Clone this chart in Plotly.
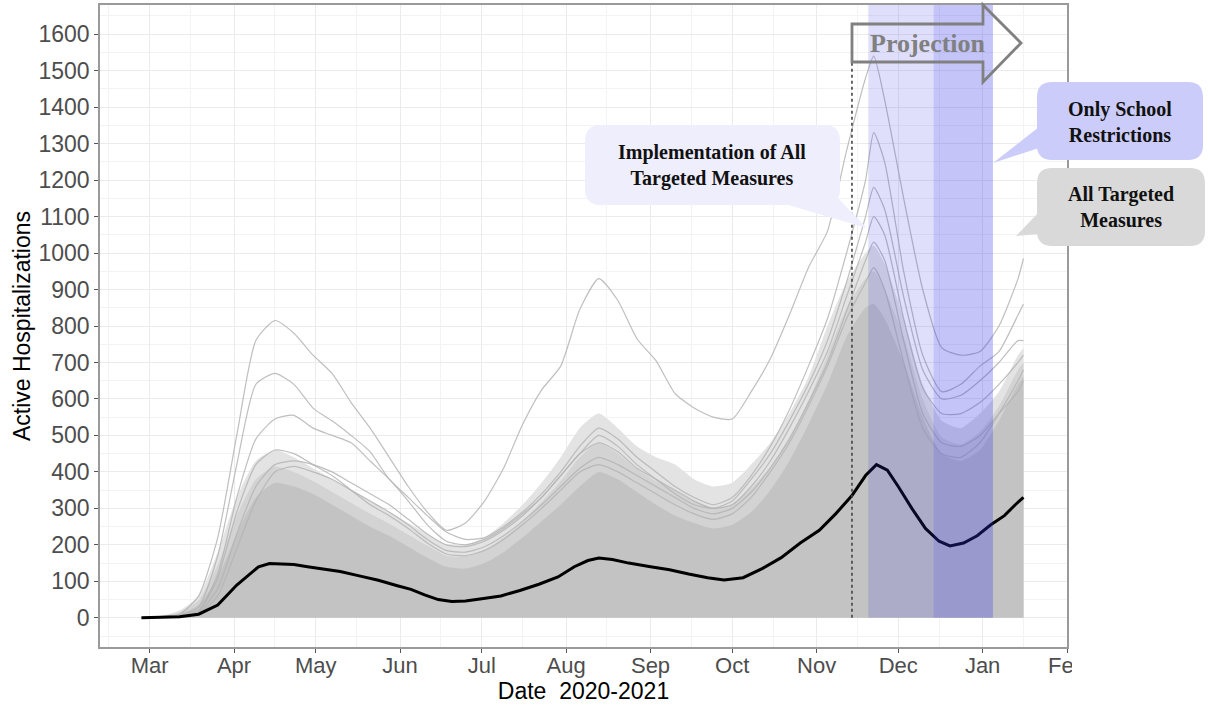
import plotly.graph_objects as go

# ---------------- data ----------------
grid_dates = ["2020-02-27","2020-03-05","2020-03-12","2020-03-19","2020-03-26",
              "2020-04-02","2020-04-09","2020-04-16","2020-04-23","2020-04-30",
              "2020-05-07","2020-05-14","2020-05-21","2020-05-28",
              "2020-06-04","2020-06-11","2020-06-18","2020-06-25",
              "2020-07-02","2020-07-09","2020-07-16","2020-07-23","2020-07-30",
              "2020-08-06","2020-08-13","2020-08-20","2020-08-27",
              "2020-09-03","2020-09-10","2020-09-17","2020-09-24",
              "2020-10-01","2020-10-08","2020-10-15","2020-10-22","2020-10-29",
              "2020-11-05","2020-11-12","2020-11-19","2020-11-22","2020-11-26",
              "2020-12-03","2020-12-10","2020-12-17","2020-12-24","2020-12-31",
              "2021-01-07","2021-01-14","2021-01-16"]

# envelopes of the dense bundle of simulated trajectories
band_outer = [0,5,20,60,180,330,430,460,440,410,380,350,320,290,260,230,200,200,220,260,
              310,370,440,520,560,520,470,440,420,380,360,370,420,480,560,660,800,920,1000,1020,
              970,820,640,540,520,560,620,720,740]
band_mid = [0,4,15,48,145,280,380,415,400,375,345,315,285,258,228,198,170,168,185,220,
            265,318,375,440,480,450,408,375,350,320,302,312,355,415,495,595,720,850,930,950,
            900,770,600,495,475,510,580,680,700]
band_inner = [0,3,10,35,110,230,330,370,360,340,310,280,250,225,195,165,140,135,150,180,
              220,265,310,360,400,380,345,310,280,260,245,255,290,350,430,530,640,770,850,860,
              820,700,550,450,430,460,540,640,660]

# individually visible trajectories
traj_1 = [0,2,10,60,220,500,760,815,780,720,670,590,520,440,360,290,240,260,320,410,
          530,625,690,845,930,870,765,705,615,575,550,545,620,710,830,960,1060,1280,1480,1540,
          1420,1150,900,740,720,730,800,930,985]
traj_2 = [0,1,6,30,170,420,640,670,640,575,540,500,455,380,330,280,235,215,220,250,
          290,340,400,470,520,490,440,400,360,330,310,330,390,470,570,690,820,1000,1200,1330,
          1250,950,720,620,640,690,730,830,860]
traj_3 = [0,1,5,20,120,330,490,545,555,520,500,480,430,380,320,255,210,200,215,245,
          285,330,390,450,500,470,420,380,340,310,300,320,380,450,540,640,760,920,1100,1180,
          1120,880,680,600,610,650,700,760,760]
traj_4 = [0,1,4,15,80,230,360,420,430,420,400,370,340,310,270,230,200,195,210,240,
          280,330,390,450,480,455,410,380,350,320,300,310,360,430,520,620,730,880,1030,1100,
          1050,820,630,560,560,590,640,700,720]
traj_5 = [0,1,3,12,60,190,320,400,415,400,380,350,320,290,255,215,185,180,195,225,
          265,310,360,410,440,420,390,360,330,300,285,300,345,410,490,590,700,840,980,1030,
          980,760,560,480,470,500,560,620,650]
traj_6 = [0,1,4,18,110,290,420,460,450,420,390,350,310,280,245,205,175,170,185,215,
          255,300,350,400,420,400,370,340,310,285,270,285,330,400,480,580,690,820,920,960,
          900,700,520,450,440,480,560,650,680]
trajectories = [traj_1, traj_2, traj_3, traj_4, traj_5, traj_6]

# median trajectory (black)
median_dates = ["2020-02-27","2020-03-05","2020-03-12","2020-03-19","2020-03-26","2020-04-02",
                "2020-04-06","2020-04-10","2020-04-14","2020-04-18","2020-04-23","2020-04-28",
                "2020-05-03","2020-05-10","2020-05-17","2020-05-24","2020-05-31","2020-06-05",
                "2020-06-10","2020-06-15","2020-06-20","2020-06-25","2020-07-01","2020-07-08",
                "2020-07-15","2020-07-22","2020-07-29","2020-08-04","2020-08-09","2020-08-13",
                "2020-08-18","2020-08-24","2020-09-01","2020-09-08","2020-09-15","2020-09-22",
                "2020-09-28","2020-10-05","2020-10-12","2020-10-19","2020-10-26","2020-11-02",
                "2020-11-08","2020-11-14","2020-11-19","2020-11-23","2020-11-27","2020-12-01",
                "2020-12-06","2020-12-11","2020-12-16","2020-12-20","2020-12-25","2020-12-30",
                "2021-01-04","2021-01-09","2021-01-13","2021-01-16"]
median_vals = [0,0.5,3,10,35,90,115,140,149,147,146,140,135,127,115,103,88,78,63,50,45,46,52,60,
               75,92,112,140,157,164,160,150,140,132,120,110,104,110,135,165,205,240,285,335,
               390,420,405,360,300,245,210,197,205,225,255,280,310,330]

month_ticks = ["2020-03-01","2020-04-01","2020-05-01","2020-06-01","2020-07-01","2020-08-01",
               "2020-09-01","2020-10-01","2020-11-01","2020-12-01","2021-01-01","2021-02-01"]
month_labels = ["Mar","Apr","May","Jun","Jul","Aug","Sep","Oct","Nov","Dec","Jan","Feb"]
minor_ticks = ["2020-02-15","2020-03-16","2020-04-16","2020-05-16","2020-06-16","2020-07-16",
               "2020-08-16","2020-09-16","2020-10-16","2020-11-16","2020-12-16","2021-01-16"]
y_ticks = list(range(0, 1700, 100))

implementation_date = "2020-11-14"
period_all_start = "2020-11-20"
period_school_start = "2020-12-14"
period_end = "2021-01-04 19:00"

# ---------------- layout geometry ----------------
W, H = 1208, 706
L, R, T, B = 100, 1067, 5, 647


def px(x):
    return (x - L) / (R - L)


def py(y):
    return (B - y) / (B - T)


def rrect(x0, y0, x1, y1, r):
    pts = [("M", x0 + r, y0), ("L", x1 - r, y0), ("Q", x1, y0, x1, y0 + r),
           ("L", x1, y1 - r), ("Q", x1, y1, x1 - r, y1), ("L", x0 + r, y1),
           ("Q", x0, y1, x0, y1 - r), ("L", x0, y0 + r), ("Q", x0, y0, x0 + r, y0)]
    s = ""
    for p in pts:
        if p[0] == "Q":
            s += f"Q{px(p[1]):.5f},{py(p[2]):.5f} {px(p[3]):.5f},{py(p[4]):.5f} "
        else:
            s += f"{p[0]}{px(p[1]):.5f},{py(p[2]):.5f} "
    return s + "Z"


def poly(points):
    s = ""
    for i, (x, y) in enumerate(points):
        s += ("M" if i == 0 else "L") + f"{px(x):.5f},{py(y):.5f} "
    return s + "Z"


fig = go.Figure()

for vals, col in [(band_outer, "#E3E3E3"), (band_mid, "#D3D3D3"), (band_inner, "#C3C3C3")]:
    fig.add_trace(go.Scatter(x=grid_dates, y=vals, mode="lines",
                             line=dict(width=0, shape="spline", smoothing=0.6),
                             fill="tozeroy", fillcolor=col, hoverinfo="skip", showlegend=False))

for tr in trajectories:
    fig.add_trace(go.Scatter(x=grid_dates, y=tr, mode="lines",
                             line=dict(color="rgba(180,180,180,0.85)", width=1.2,
                                       shape="spline", smoothing=0.6),
                             hoverinfo="skip", showlegend=False))

fig.add_trace(go.Scatter(x=median_dates, y=median_vals, mode="lines",
                         line=dict(color="black", width=3), showlegend=False))

shapes = [
    dict(type="rect", xref="x", yref="y", x0=period_all_start, x1=period_school_start,
         y0=0, y1=1680, fillcolor="rgba(52,52,231,0.157)", line=dict(width=0), layer="above"),
    dict(type="rect", xref="x", yref="y", x0=period_school_start, x1=period_end,
         y0=0, y1=1680, fillcolor="rgba(52,52,231,0.29)", line=dict(width=0), layer="above"),
    dict(type="line", xref="x", yref="y", x0=implementation_date, x1=implementation_date,
         y0=0, y1=1525, line=dict(color="#444444", width=1.6, dash="3px,3px"), layer="above"),
    # projection arrow
    dict(type="path", xref="paper", yref="paper",
         path=poly([(852, 24), (983, 24), (983, 5), (1021, 43), (983, 82), (983, 62), (852, 62)]),
         line=dict(color="#808080", width=2.8), fillcolor="rgba(0,0,0,0)", layer="above"),
    # callout: implementation
    dict(type="path", xref="paper", yref="paper", path=rrect(585, 125, 840, 205, 16),
         fillcolor="#EEEEFD", line=dict(width=0), layer="above"),
    dict(type="path", xref="paper", yref="paper", path=poly([(785, 204), (836, 196), (867, 228)]),
         fillcolor="#EEEEFD", line=dict(width=0), layer="above"),
    # callout: only school
    dict(type="path", xref="paper", yref="paper", path=rrect(1037, 82, 1203, 160, 15),
         fillcolor="#CCCCFA", line=dict(width=0), layer="above"),
    dict(type="path", xref="paper", yref="paper", path=poly([(1039, 127), (1039, 148), (993, 163)]),
         fillcolor="#CCCCFA", line=dict(width=0), layer="above"),
    # callout: all targeted
    dict(type="path", xref="paper", yref="paper", path=rrect(1037, 168, 1205, 246, 15),
         fillcolor="#D9D9D9", line=dict(width=0), layer="above"),
    dict(type="path", xref="paper", yref="paper", path=poly([(1039, 212), (1039, 234), (1016, 236)]),
         fillcolor="#D9D9D9", line=dict(width=0), layer="above"),
    # crop of the last month label as in the reference
    dict(type="rect", xref="paper", yref="paper", x0=px(1072), x1=px(1208), y0=py(700), y1=py(649),
         fillcolor="white", line=dict(width=0), layer="above"),
]

serif = "Liberation Serif, Times New Roman, serif"


def note(text, x, y, size, color):
    return dict(text=text, x=px(x), y=py(y), xref="paper", yref="paper",
                xanchor="center", yanchor="middle", showarrow=False, align="center",
                font=dict(family=serif, size=size, color=color))


annotations = [
    note("<b>Projection</b>", 928, 44, 26, "#808080"),
    note("<b>Implementation of All<br>Targeted Measures</b>", 712, 165, 20, "#111111"),
    note("<b>Only School<br>Restrictions</b>", 1120, 122, 20, "#111111"),
    note("<b>All Targeted<br>Measures</b>", 1121, 207, 20, "#111111"),
]

sans = "Liberation Sans, Arial, sans-serif"
fig.update_layout(
    width=W, height=H,
    margin=dict(l=L, r=W - R, t=T, b=H - B, autoexpand=False),
    paper_bgcolor="white", plot_bgcolor="white",
    shapes=shapes, annotations=annotations,
    showlegend=False,
    xaxis=dict(
        type="date", range=["2020-02-11 18:00", "2021-02-01"],
        tickmode="array", tickvals=month_ticks, ticktext=month_labels,
        tickfont=dict(family=sans, size=22, color="#4D4D4D"),
        ticks="outside", ticklen=4, tickcolor="#555555", tickwidth=1,
        ticklabelstandoff=-6,
        showgrid=True, gridcolor="#EBEBEB", gridwidth=1,
        minor=dict(tickmode="array", tickvals=minor_ticks, showgrid=True,
                   gridcolor="#F3F3F3", gridwidth=0.7, ticks=""),
        showline=True, linecolor="#9A9A9A", linewidth=1.5, mirror=True,
        zeroline=False,
        title=dict(text="Date  2020-2021", font=dict(family=sans, size=23, color="black"), standoff=2),
    ),
    yaxis=dict(
        range=[-80, 1680],
        tickmode="array", tickvals=y_ticks, ticktext=[str(v) for v in y_ticks],
        tickfont=dict(family=sans, size=23, color="#4D4D4D"),
        ticks="outside", ticklen=4, tickcolor="#555555", tickwidth=1,
        showgrid=True, gridcolor="#EBEBEB", gridwidth=1,
        minor=dict(dtick=50, tick0=-50, showgrid=True, gridcolor="#F3F3F3", gridwidth=0.7, ticks=""),
        showline=True, linecolor="#9A9A9A", linewidth=1.5, mirror=True,
        zeroline=False,
        title=dict(text="Active Hospitalizations", font=dict(family=sans, size=23, color="black"), standoff=1),
    ),
)

fig.write_html("out.html")
